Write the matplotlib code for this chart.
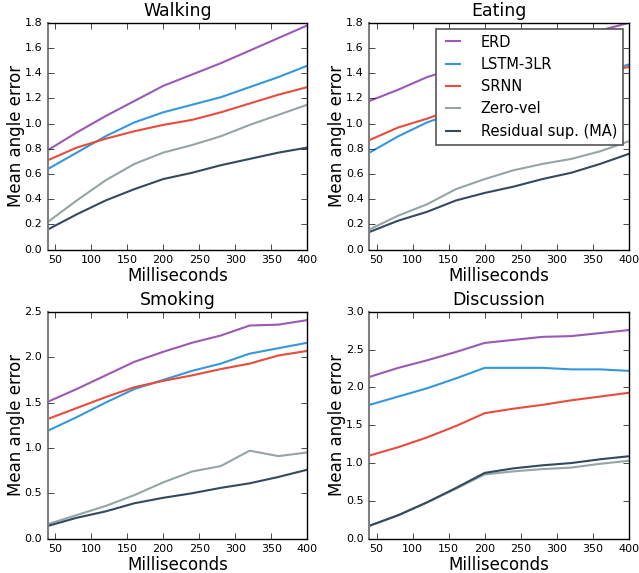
import matplotlib
matplotlib.use('Agg')
import matplotlib.pyplot as plt

plt.style.use('classic')

# 预测时间点 (ms)
ms = [40, 80, 120, 160, 200, 240, 280, 320, 360, 400]

methods = ['ERD', 'LSTM-3LR', 'SRNN', 'Zero-vel', 'Residual sup. (MA)']
colors = ['#9b59b6', '#3498db', '#e74c3c', '#95a5a6', '#34495e']

# 各动作的误差
walking = [
    [0.79, 0.93, 1.06, 1.18, 1.30, 1.39, 1.48, 1.58, 1.68, 1.78],
    [0.64, 0.77, 0.90, 1.01, 1.09, 1.15, 1.21, 1.29, 1.37, 1.46],
    [0.71, 0.81, 0.88, 0.94, 0.99, 1.03, 1.09, 1.16, 1.23, 1.29],
    [0.22, 0.39, 0.55, 0.68, 0.77, 0.83, 0.90, 0.99, 1.07, 1.15],
    [0.16, 0.28, 0.39, 0.48, 0.56, 0.61, 0.67, 0.72, 0.77, 0.81],
]
eating = [
    [1.18, 1.27, 1.37, 1.44, 1.50, 1.56, 1.62, 1.68, 1.74, 1.80],
    [0.77, 0.90, 1.01, 1.09, 1.16, 1.22, 1.28, 1.34, 1.40, 1.47],
    [0.87, 0.97, 1.04, 1.12, 1.18, 1.24, 1.30, 1.36, 1.41, 1.45],
    [0.16, 0.27, 0.36, 0.48, 0.56, 0.63, 0.68, 0.72, 0.78, 0.86],
    [0.14, 0.23, 0.30, 0.39, 0.45, 0.50, 0.56, 0.61, 0.68, 0.76],
]
smoking = [
    [1.51, 1.65, 1.80, 1.95, 2.06, 2.16, 2.24, 2.35, 2.36, 2.41],
    [1.19, 1.34, 1.50, 1.65, 1.75, 1.85, 1.93, 2.04, 2.10, 2.16],
    [1.32, 1.44, 1.56, 1.67, 1.74, 1.80, 1.87, 1.93, 2.02, 2.07],
    [0.16, 0.26, 0.36, 0.48, 0.62, 0.74, 0.80, 0.97, 0.91, 0.95],
    [0.14, 0.23, 0.30, 0.39, 0.45, 0.50, 0.56, 0.61, 0.68, 0.76],
]
discussion = [
    [2.14, 2.26, 2.36, 2.47, 2.59, 2.63, 2.67, 2.68, 2.72, 2.76],
    [1.77, 1.88, 1.99, 2.12, 2.26, 2.26, 2.26, 2.24, 2.24, 2.22],
    [1.10, 1.21, 1.34, 1.49, 1.66, 1.72, 1.77, 1.83, 1.88, 1.93],
    [0.17, 0.31, 0.48, 0.66, 0.85, 0.89, 0.92, 0.94, 0.99, 1.03],
    [0.17, 0.31, 0.48, 0.67, 0.87, 0.93, 0.97, 1.00, 1.05, 1.09],
]

actions = ['Walking', 'Eating', 'Smoking', 'Discussion']
data = [walking, eating, smoking, discussion]
ylims = [(0, 1.8), (0, 1.8), (0, 2.5), (0, 3.0)]

fig, axes = plt.subplots(2, 2, figsize=(6.39, 5.73), dpi=100)
fig.patch.set_facecolor('white')
fig.subplots_adjust(left=0.075, right=0.984, top=0.96, bottom=0.06,
                    wspace=0.24, hspace=0.275)

for ax, name, series, yl in zip(axes.flat, actions, data, ylims):
    for vals, label, c in zip(series, methods, colors):
        ax.plot(ms, vals, color=c, lw=1.5, label=label)
    ax.set_xlim(40, 400)
    ax.set_ylim(*yl)
    ax.set_xticks([50, 100, 150, 200, 250, 300, 350, 400])
    ax.set_title(name, fontsize=12.5)
    ax.set_xlabel('Milliseconds', fontsize=12, labelpad=1)
    ax.set_ylabel('Mean angle error', fontsize=12, labelpad=0)
    ax.tick_params(labelsize=8)
    ax.spines['left'].set_color('#808080')
    ax.spines['left'].set_linewidth(1.5)

leg = axes[0, 1].legend(loc='upper right', fontsize=10.5, handlelength=1.6,
                        handletextpad=1.1, borderaxespad=0.4)
leg.get_frame().set_edgecolor('#555555')
leg.get_frame().set_linewidth(1.2)

plt.savefig('out.png', dpi=100, facecolor='white')
